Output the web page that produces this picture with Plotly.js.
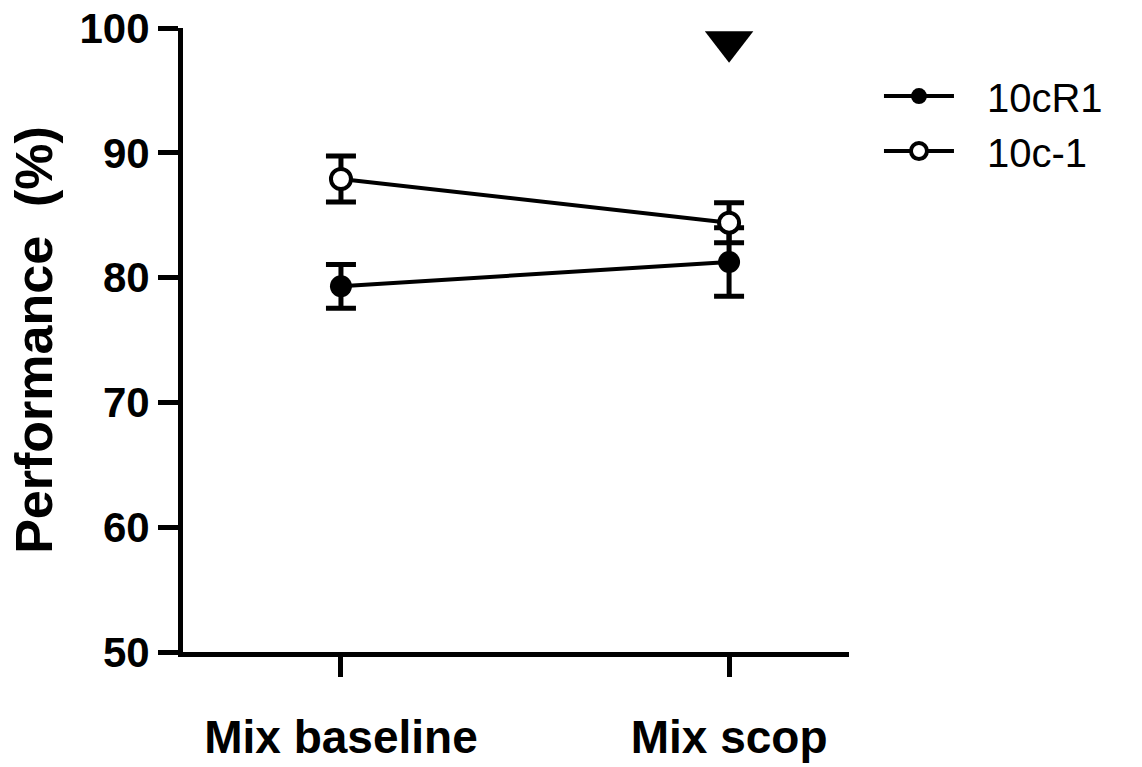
<!DOCTYPE html>
<html>
<head>
<meta charset="utf-8">
<script src="https://cdn.plot.ly/plotly-3.0.1.min.js"></script>
<style>html,body{margin:0;padding:0;background:#fff;}#chart{width:1142px;height:767px;}</style>
</head>
<body>
<div id="chart"></div>
<script>
const categories = ["Mix baseline", "Mix scop"];
const series1Name = "10cR1";
const series1Mean = [79.3, 81.25];
const series1Err = [1.75, 2.75];
const series2Name = "10c-1";
const series2Mean = [87.9, 84.4];
const series2Err = [1.85, 1.6];
const markerCategory = ["Mix scop"];
const markerValue = [98.9];
const yTickVals = [50, 60, 70, 80, 90, 100];

const fontFam = "Liberation Sans, Arial, sans-serif";
const gap = "\u2002\u2009";

const traces = [
  {
    x: categories, y: series1Mean, name: gap + series1Name, type: "scatter", mode: "lines+markers",
    line: {color: "#000", width: 4},
    marker: {symbol: "circle", size: 22, color: "#000", line: {color: "#000", width: 0}},
    error_y: {type: "data", array: series1Err, visible: true, color: "#000", thickness: 5, width: 15},
    cliponaxis: false
  },
  {
    x: categories, y: series2Mean, name: gap + series2Name, type: "scatter", mode: "lines+markers",
    line: {color: "#000", width: 4},
    marker: {symbol: "circle", size: 20, color: "#fff", line: {color: "#000", width: 4}},
    error_y: {type: "data", array: series2Err, visible: true, color: "#000", thickness: 5, width: 15},
    cliponaxis: false
  },
  {
    x: markerCategory, y: markerValue, type: "scatter", mode: "markers", showlegend: false,
    marker: {symbol: "triangle-down", size: 42, color: "#000"},
    cliponaxis: false, hoverinfo: "skip"
  }
];

const layout = {
  width: 1142, height: 767,
  margin: {l: 183, r: 293, t: 28, b: 115},
  paper_bgcolor: "#fff", plot_bgcolor: "#fff",
  showlegend: true,
  legend: {
    x: 1.045, y: 0.943, xanchor: "left", yanchor: "top",
    font: {family: fontFam, size: 40, color: "#000"},
    itemwidth: 70, tracegroupgap: 0, bgcolor: "rgba(0,0,0,0)"
  },
  xaxis: {
    type: "category", range: [-0.407, 1.309],
    showline: true, linecolor: "#000", linewidth: 5,
    ticks: "outside", ticklen: 20, tickwidth: 5, tickcolor: "#000",
    showgrid: false, zeroline: false,
    tickfont: {family: fontFam, size: 46, color: "#000", weight: "bold"},
    ticklabelstandoff: 21
  },
  yaxis: {
    range: [50, 100], tickvals: yTickVals,
    showline: true, linecolor: "#000", linewidth: 5,
    ticks: "outside", ticklen: 20, tickwidth: 5, tickcolor: "#000",
    showgrid: false, zeroline: false,
    tickfont: {family: fontFam, size: 42, color: "#000", weight: "bold"},
    title: {text: "Performance  (%)", font: {family: fontFam, size: 52, color: "#000", weight: "bold"}, standoff: 12}
  }
};

Plotly.newPlot("chart", traces, layout, {displayModeBar: false, staticPlot: true});
</script>
</body>
</html>
